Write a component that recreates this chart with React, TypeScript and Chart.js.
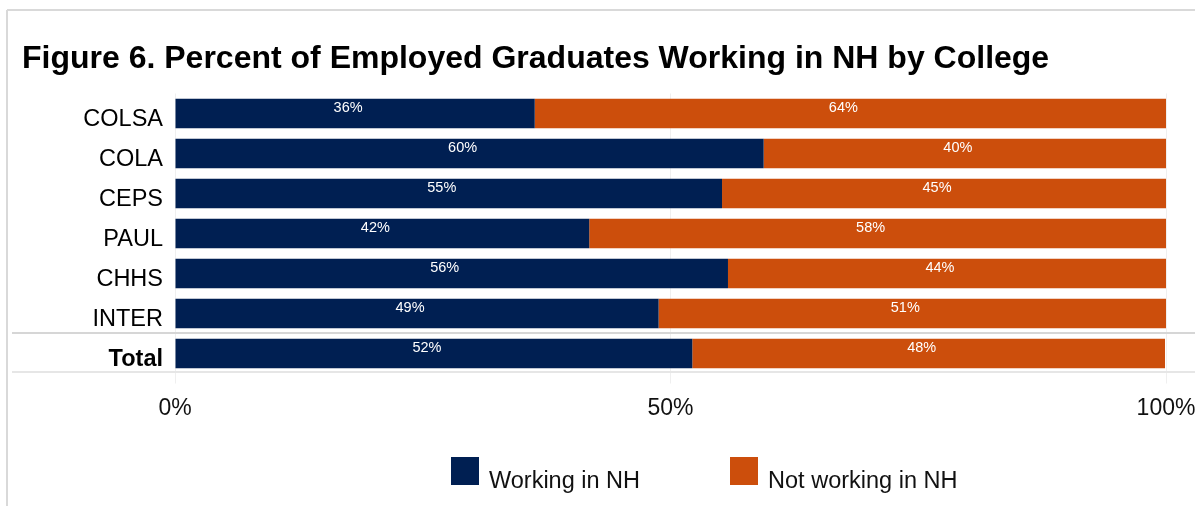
import React, { useEffect, useRef } from 'react';
import { Chart, registerables } from 'chart.js';

Chart.register(...registerables);

const title = 'Figure 6. Percent of Employed Graduates Working in NH by College';
const categories = ['COLSA', 'COLA', 'CEPS', 'PAUL', 'CHHS', 'INTER', 'Total'];
const seriesNames = ['Working in NH', 'Not working in NH'];
const workingInNH = [36.3, 59.4, 55.2, 41.8, 55.8, 48.8, 52.2];
const notWorkingInNH = [63.7, 40.6, 44.8, 58.2, 44.2, 51.2, 47.7];
const workingLabels = ['36%', '60%', '55%', '42%', '56%', '49%', '52%'];
const notWorkingLabels = ['64%', '40%', '45%', '58%', '44%', '51%', '48%'];
const xTickValues = [0, 50, 100];
const seriesColors = ['#001F52', '#CC4E0C'];

const FONT = '"Liberation Sans", Arial, Helvetica, sans-serif';

const decorPlugin = {
  id: 'decor',
  beforeDatasetsDraw(chart: any) {
    const { ctx, chartArea, width } = chart;
    const yScale = chart.scales.y;
    ctx.save();
    ctx.strokeStyle = '#d9d9d9';
    ctx.lineWidth = 2;
    ctx.beginPath();
    ctx.moveTo(7, 10);
    ctx.lineTo(width, 10);
    ctx.moveTo(7, 10);
    ctx.lineTo(7, chart.height);
    ctx.stroke();
    const n = categories.length;
    const ySep = (yScale.getPixelForValue(n - 2) + yScale.getPixelForValue(n - 1)) / 2;
    ctx.strokeStyle = '#d6d6d6';
    ctx.beginPath();
    ctx.moveTo(12, ySep - 0.5);
    ctx.lineTo(width, ySep - 0.5);
    ctx.stroke();
    ctx.strokeStyle = '#e6e6e6';
    ctx.beginPath();
    ctx.moveTo(12, chartArea.bottom - 1.5);
    ctx.lineTo(width, chartArea.bottom - 1.5);
    ctx.stroke();
    ctx.restore();
  },
};

const labelPlugin = {
  id: 'barLabels',
  afterDatasetsDraw(chart: any) {
    const { ctx } = chart;
    const labelSets = [workingLabels, notWorkingLabels];
    ctx.save();
    ctx.font = `14.5px ${FONT}`;
    ctx.fillStyle = '#ffffff';
    ctx.textAlign = 'center';
    ctx.textBaseline = 'middle';
    chart.data.datasets.forEach((_ds: any, di: number) => {
      const meta = chart.getDatasetMeta(di);
      meta.data.forEach((bar: any, i: number) => {
        const cx = (bar.x + bar.base) / 2 - 7;
        const cy = bar.y - 5.2;
        ctx.fillText(labelSets[di][i], cx, cy);
      });
    });
    ctx.restore();
  },
};

function ChartView() {
  const canvasRef = useRef<HTMLCanvasElement | null>(null);

  useEffect(() => {
    if (!canvasRef.current) return;
    const chart = new Chart(canvasRef.current, {
      type: 'bar',
      data: {
        labels: categories,
        datasets: [
          {
            label: seriesNames[0],
            data: workingInNH,
            backgroundColor: seriesColors[0],
            borderWidth: 0,
            categoryPercentage: 1,
            barPercentage: 0.74,
          },
          {
            label: seriesNames[1],
            data: notWorkingInNH,
            backgroundColor: seriesColors[1],
            borderWidth: 0,
            categoryPercentage: 1,
            barPercentage: 0.74,
          },
        ],
      },
      options: {
        indexAxis: 'y',
        responsive: false,
        animation: false,
        devicePixelRatio: 1,
        layout: { padding: { left: 22, right: 29, top: 0, bottom: 83.5 } },
        plugins: {
          legend: { display: false },
          tooltip: { enabled: false },
          title: {
            display: true,
            text: title,
            align: 'start',
            color: '#000000',
            font: { family: FONT, size: 32, weight: 'bold' },
            padding: { top: 40, bottom: 15.1 },
          },
        },
        scales: {
          x: {
            stacked: true,
            min: 0,
            max: 100,
            afterBuildTicks(axis: any) {
              axis.ticks = xTickValues.map((v) => ({ value: v }));
            },
            afterFit(axis: any) {
              axis.height = 49;
              axis.paddingRight = 0;
              axis.paddingLeft = 0;
            },
            border: { display: false },
            grid: { color: '#efefef', lineWidth: 1, drawTicks: true, tickLength: 10 },
            ticks: {
              padding: 11.4,
              maxRotation: 0,
              color: '#111111',
              font: { family: FONT, size: 23 },
              callback: (v: any) => `${v}%`,
            },
          },
          y: {
            stacked: true,
            afterFit(axis: any) {
              axis.width = 153;
            },
            border: { display: false },
            grid: { display: false, drawTicks: false, tickLength: 0 },
            ticks: {
              padding: 12,
              labelOffset: 6.5,
              color: '#000000',
              font: (ctx: any) => ({
                family: FONT,
                size: 23.5,
                weight: ctx.index === categories.length - 1 ? 'bold' : 'normal',
              }),
            },
          },
        },
      },
      plugins: [decorPlugin, labelPlugin],
    });
    return () => chart.destroy();
  }, []);

  return <canvas ref={canvasRef} width={1195} height={506} style={{ display: 'block' }} />;
}

function Legend() {
  const itemStyle: React.CSSProperties = { display: 'flex', alignItems: 'flex-start' };
  const boxStyle = (c: string): React.CSSProperties => ({
    width: 28,
    height: 28,
    background: c,
    marginRight: 10,
    flex: '0 0 auto',
  });
  const textStyle: React.CSSProperties = {
    fontFamily: FONT,
    fontSize: 23.5,
    lineHeight: '28px',
    color: '#111111',
    marginTop: 9,
    whiteSpace: 'nowrap',
  };
  return (
    <div style={{ position: 'absolute', left: 451, top: 457, display: 'flex' }}>
      {seriesNames.map((name, i) => (
        <div key={name} style={{ ...itemStyle, marginRight: i === 0 ? 90 : 0 }}>
          <div style={boxStyle(seriesColors[i])} />
          <span style={textStyle}>{name}</span>
        </div>
      ))}
    </div>
  );
}

export default function App() {
  return (
    <div
      style={{
        position: 'fixed',
        left: 0,
        top: 0,
        width: 1195,
        height: 506,
        background: '#ffffff',
        overflow: 'hidden',
      }}
    >
      <ChartView />
      <Legend />
    </div>
  );
}
